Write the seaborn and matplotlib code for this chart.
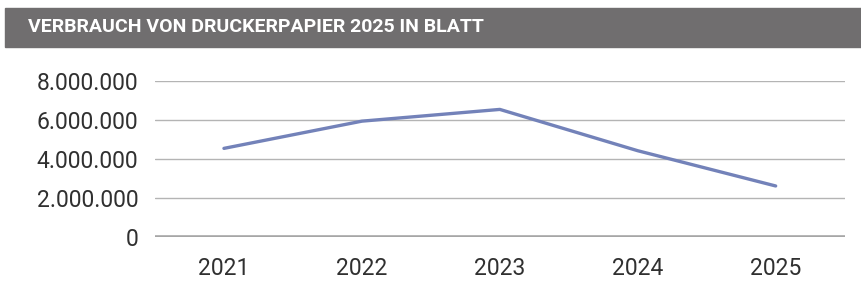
import pandas as pd
import seaborn as sns
import matplotlib.pyplot as plt
from matplotlib.ticker import FuncFormatter

#%% Data

jahre = ['2021', '2022', '2023', '2024', '2025']
blatt = [4540000, 5930000, 6530000, 4420000, 2620000]
titel = 'VERBRAUCH VON DRUCKERPAPIER 2025 IN BLATT'

df = pd.DataFrame({'jahr': jahre, 'blatt': blatt})

#%% Plot

sns.set_style('white')
plt.rcParams['font.family'] = ['Roboto', 'DejaVu Sans']

fig = plt.figure(figsize=(8.61, 2.89), dpi=100)
ax = fig.add_axes([0.180, 0.179, 0.801, 0.542])

sns.lineplot(data=df, x='jahr', y='blatt', sort=False, color='#7382b9',
             linewidth=2.4, ax=ax)

ax.set_xlim(-0.5, len(jahre) - 0.5)
ax.set_ylim(0, 8000000)
ax.set_yticks([0, 2000000, 4000000, 6000000, 8000000])
ax.yaxis.set_major_formatter(FuncFormatter(lambda v, p: f'{int(v):,}'.replace(',', '.')))
ax.grid(axis='y', color='#b4b4b4', linewidth=1.0)
ax.set_axisbelow(True)
ax.axhline(0, color='#a6a6a6', linewidth=2.6, zorder=1)
for s in ax.spines.values():
    s.set_visible(False)
ax.tick_params(axis='both', length=0, labelsize=16.5, labelcolor='#303030')
ax.tick_params(axis='y', pad=12)
ax.tick_params(axis='x', pad=14)
ax.set_xlabel('')
ax.set_ylabel('')

# title band
fig.patches.append(plt.Rectangle((0.006, 1 - 46.5 / 289), 0.994, 38.5 / 289,
                                 transform=fig.transFigure, color='#706e6f', zorder=0))
fig.text(0.032, 1 - 27.5 / 289, titel, color='white', fontsize=14, fontweight='bold',
         va='center', ha='left')

fig.savefig('out.png', dpi=100)
